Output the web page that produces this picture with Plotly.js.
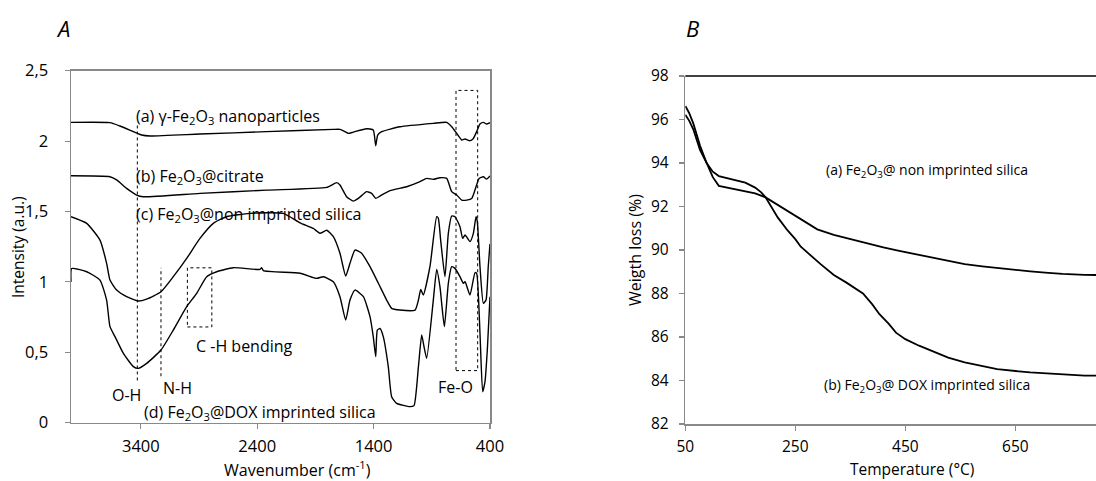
<!DOCTYPE html>
<html>
<head>
<meta charset="utf-8">
<script src="https://cdn.plot.ly/plotly-3.0.1.min.js"></script>
<style>
html,body{margin:0;padding:0;background:#fff;overflow:hidden;}
#chart{width:1096px;height:481px;}
</style>
</head>
<body>
<div id="chart"></div>
<script>
// ---------- Panel A : FTIR spectra ----------
const waveA_a = [4000,3665,3579,3464,3393,3321,2892,2319,1746,1689,1646,1617,1574,1460,1403,1382,1365,1331,1173,887,772,729,686,643,614,572,543,515,486,457,429,400];
const intA_a  = [2.133,2.131,2.107,2.067,2.043,2.036,2.050,2.067,2.083,2.083,2.067,2.055,2.064,2.088,2.079,1.967,2.043,2.067,2.102,2.126,2.133,2.102,2.055,2.008,2.015,2.003,2.019,2.067,2.121,2.133,2.121,2.131];

const waveA_b = [4000,3665,3608,3522,3436,3379,2892,2319,1803,1717,1689,1632,1574,1531,1460,1417,1382,1345,1259,1116,1001,944,887,830,772,729,686,643,600,557,529,494,457,429,400];
const intA_b  = [1.754,1.747,1.724,1.664,1.617,1.605,1.629,1.652,1.671,1.705,1.688,1.605,1.574,1.593,1.641,1.629,1.593,1.610,1.648,1.676,1.712,1.735,1.728,1.740,1.735,1.641,1.617,1.581,1.581,1.593,1.652,1.735,1.747,1.730,1.752];

const waveA_c = [4000,3865,3751,3694,3665,3608,3522,3422,3350,3227,3121,3006,2892,2777,2663,2462,2176,2032,1918,1861,1803,1746,1689,1640,1603,1560,1503,1431,1359,1288,1245,1173,1044,1015,995,973,916,858,844,824,787,758,729,701,658,635,614,572,543,520,509,486,457,434,415,400];
const intA_c  = [1.463,1.416,1.297,1.132,1.013,0.942,0.895,0.864,0.878,0.930,1.037,1.167,1.309,1.416,1.463,1.487,1.487,1.420,1.380,1.345,1.367,1.321,1.203,1.042,1.132,1.226,1.203,1.108,0.990,0.871,0.812,0.800,0.800,0.871,0.947,0.907,1.108,1.463,1.452,1.297,1.037,1.345,1.468,1.463,1.392,1.309,1.333,1.286,1.345,1.463,1.428,1.108,0.848,0.872,1.108,1.27];

const waveA_d = [4000,3994,3865,3751,3694,3665,3622,3550,3464,3422,3350,3227,3121,3006,2920,2834,2748,2605,2376,2362,2347,2032,1889,1832,1746,1689,1640,1603,1560,1488,1431,1403,1382,1368,1345,1317,1274,1245,1202,1087,1053,1015,987,967,944,887,858,830,792,758,729,701,658,629,614,572,529,515,486,463,443,423,400];
const intA_d  = [1.0,1.095,1.072,1.013,0.871,0.682,0.611,0.492,0.398,0.386,0.421,0.516,0.658,0.824,0.919,1.037,1.072,1.101,1.089,1.101,1.080,1.061,1.025,1.037,1.001,0.895,0.729,0.871,0.942,0.895,0.753,0.611,0.469,0.658,0.669,0.611,0.398,0.185,0.137,0.114,0.121,0.398,0.623,0.540,0.457,0.871,1.089,0.966,0.682,0.990,1.108,1.096,1.037,0.990,1.001,0.907,1.065,1.061,0.634,0.220,0.291,0.516,0.895];

const xTickValsA = [3400,2400,1400,400];
const yTickValsA = [0,0.5,1,1.5,2,2.5];
const yTickTextA = ['0','0,5','1','1,5','2','2,5'];

// ---------- Panel B : TGA ----------
const tempB_a = [50,57,64.5,76.7,88.8,100,111,135,159,177,196,210,230,250,270,290,320,350,379,410,439,470,497,530,558,590,617,650,677,710,736,776,796.7];
const wB_a    = [96.22,95.95,95.55,94.6,94.0,93.35,92.95,92.82,92.72,92.6,92.42,92.2,91.9,91.6,91.25,90.95,90.7,90.5,90.32,90.12,89.96,89.8,89.65,89.47,89.35,89.25,89.17,89.08,89.02,88.95,88.9,88.86,88.85];
const tempB_b = [50,57,64.5,76.7,88.8,100,111,135,159,177,188,196,206.5,218,236,250,260,280,296,320,343,373,390,403,420,433,450,475,497.6,528,558,617,677,736,776,796.7];
const wB_b    = [96.62,96.3,95.82,94.8,94.0,93.6,93.4,93.25,93.1,92.87,92.65,92.42,91.95,91.5,90.9,90.5,90.15,89.7,89.35,88.85,88.5,88.0,87.5,87.05,86.6,86.2,85.9,85.6,85.37,85.05,84.83,84.52,84.37,84.26,84.22,84.22];
const xTickValsB = [50,250,450,650];
const yTickValsB = [82,84,86,88,90,92,94,96,98];

// ---------- geometry helpers (pixel -> paper) ----------
const W = 1096, H = 481;
const px = x => x / W;
const py = y => 1 - y / H;

const FONT = '"Open Sans", "Noto Sans", sans-serif';
const AX = '#898989';

function specTrace(x, y, xa, ya) {
  return {x: x, y: y, xaxis: xa, yaxis: ya, mode: 'lines', type: 'scatter',
          line: {color: '#000', width: 1.4, shape: 'spline', smoothing: 0.5},
          hoverinfo: 'skip', showlegend: false};
}
function tgaTrace(x, y) {
  return {x: x, y: y, xaxis: 'x2', yaxis: 'y2', mode: 'lines', type: 'scatter',
          line: {color: '#000', width: 1.8}, hoverinfo: 'skip', showlegend: false};
}

const data = [
  specTrace(waveA_a, intA_a, 'x', 'y'),
  specTrace(waveA_b, intA_b, 'x', 'y'),
  specTrace(waveA_c, intA_c, 'x', 'y'),
  specTrace(waveA_d, intA_d, 'x', 'y'),
  tgaTrace(tempB_a, wB_a),
  tgaTrace(tempB_b, wB_b)
];

function ann(text, x, y, size, opts) {
  return Object.assign({text: text, x: px(x), y: py(y), xref: 'paper', yref: 'paper',
    showarrow: false, xanchor: 'center', yanchor: 'middle',
    font: {family: FONT, size: size, color: '#000'}}, opts || {});
}

const annotations = [
  ann('A', 63, 28, 22, {font: {family: FONT, size: 22, color: '#000', style: 'italic'}}),
  ann('B', 692, 28, 22, {font: {family: FONT, size: 22, color: '#000', style: 'italic'}}),
  ann('(a) γ-Fe<sub>2</sub>O<sub>3</sub> nanoparticles', 134, 116, 16, {xanchor: 'left'}),
  ann('(b) Fe<sub>2</sub>O<sub>3</sub>@citrate', 134, 176, 16, {xanchor: 'left'}),
  ann('(c) Fe<sub>2</sub>O<sub>3</sub>@non imprinted silica', 134, 214, 16, {xanchor: 'left'}),
  ann('C -H bending', 194, 346, 16, {xanchor: 'left'}),
  ann('O-H', 126, 395, 16),
  ann('N-H', 177, 388, 16),
  ann('(d) Fe<sub>2</sub>O<sub>3</sub>@DOX imprinted silica', 142, 412, 16, {xanchor: 'left'}),
  ann('Fe-O', 455, 387, 16),
  ann('Intensity (a.u.)', 18, 247, 15.5, {textangle: -90}),
  ann('Wavenumber (cm<sup>-1</sup>)', 297, 469, 16),
  ann('(a) Fe<sub>2</sub>O<sub>3</sub>@ non imprinted silica', 927, 170, 14),
  ann('(b) Fe<sub>2</sub>O<sub>3</sub>@ DOX imprinted silica', 927, 385, 14),
  ann('Weigth loss (%)', 635, 250, 16, {textangle: -90}),
  ann('Temperature (°C)', 912, 469, 15.5)
];

const dot = {color: '#000', width: 1, dash: 'dot'};
const shapes = [
  {type: 'line', xref: 'x', yref: 'y', x0: 3430, x1: 3430, y0: 0.30, y1: 2.13, line: dot},
  {type: 'line', xref: 'x', yref: 'y', x0: 3227, x1: 3227, y0: 0.33, y1: 1.10, line: dot},
  {type: 'rect', xref: 'x', yref: 'y', x0: 3000, x1: 2790, y0: 0.68, y1: 1.10, line: dot},
  {type: 'rect', xref: 'x', yref: 'y', x0: 692, x1: 506, y0: 0.37, y1: 2.36, line: dot},
  {type: 'line', xref: 'paper', yref: 'paper', x0: px(685.3), x1: 1, y0: py(76), y1: py(76),
   line: {color: '#000', width: 1.5}}
];

const tickFontA = {family: FONT, size: 16.5, color: '#000'};
const tickFontB = {family: FONT, size: 15.5, color: '#000'};

const layout = {
  width: W, height: H,
  margin: {l: 0, r: 0, t: 0, b: 0, pad: 0},
  paper_bgcolor: '#fff', plot_bgcolor: '#fff',
  showlegend: false,
  xaxis: {domain: [px(71), px(490)], range: [4000, 400], anchor: 'y',
          tickmode: 'array', tickvals: xTickValsA, ticks: 'outside', ticklen: 5, tickcolor: AX, tickwidth: 1.2,
          showline: true, linecolor: AX, linewidth: 1.5, mirror: true,
          showgrid: false, zeroline: false, tickfont: tickFontA, ticklabelstandoff: 3},
  yaxis: {domain: [py(422.7), py(70.7)], range: [0, 2.5], anchor: 'x',
          tickmode: 'array', tickvals: yTickValsA, ticktext: yTickTextA,
          ticks: 'outside', ticklen: 5, tickcolor: AX, tickwidth: 1.2,
          showline: true, linecolor: AX, linewidth: 1.5, mirror: true,
          showgrid: false, zeroline: false, tickfont: tickFontA, ticklabelstandoff: 13},
  xaxis2: {domain: [px(685.3), 1], range: [50, 796.7], anchor: 'y2',
          tickmode: 'array', tickvals: xTickValsB, ticks: 'outside', ticklen: 5, tickcolor: AX, tickwidth: 1.2,
          showline: true, linecolor: AX, linewidth: 1.5,
          showgrid: false, zeroline: false, tickfont: tickFontB, ticklabelstandoff: 3},
  yaxis2: {domain: [py(424), py(76)], range: [82, 98], anchor: 'x2',
          tickmode: 'array', tickvals: yTickValsB, ticks: 'outside', ticklen: 5, tickcolor: AX, tickwidth: 1.2,
          showline: true, linecolor: AX, linewidth: 1.5,
          showgrid: false, zeroline: false, tickfont: tickFontB, ticklabelstandoff: 7},
  annotations: annotations,
  shapes: shapes
};

Plotly.newPlot('chart', data, layout, {staticPlot: true, displayModeBar: false});
</script>
</body>
</html>
